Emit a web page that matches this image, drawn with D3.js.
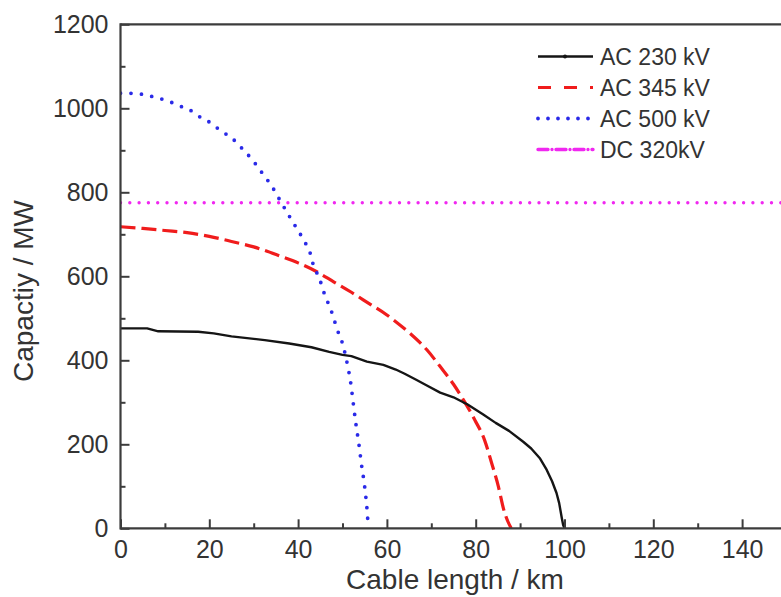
<!DOCTYPE html>
<html>
<head>
<meta charset="utf-8">
<script src="https://cdn.jsdelivr.net/npm/d3@7"></script>
<style>
  html, body { margin: 0; padding: 0; background: #fff; }
  svg { display: block; }
  text { font-family: "Liberation Sans", Arial, Helvetica, sans-serif; }
</style>
</head>
<body>
<svg id="chart" width="781" height="597"></svg>
<script>
// ---- data ----
const seriesNames = ["AC 230 kV", "AC 345 kV", "AC 500 kV", "DC 320kV"];

const ac230Length = [0, 6, 8.5, 17.5, 21, 25, 32.5, 38, 43, 47, 50, 52, 55.5, 59.2, 62, 64, 66.7, 69, 72, 75, 77.2, 78, 81.7, 84.5, 87.5, 90.7, 92.5, 94.5, 96, 97.2, 98.2, 98.8, 99.4, 99.7, 100];
const ac230Value  = [476, 476, 469, 468, 464, 457, 448, 440, 431, 420, 413, 410, 397, 389, 378, 368, 353, 340, 323, 312, 300, 296, 271, 251, 232, 206, 190, 166, 139, 112, 84, 60, 24, 8, 0];

const ac345Length = [0, 5, 10, 15, 20, 25, 30, 36, 40, 44, 48, 52, 56, 60, 62, 65, 69, 72, 75, 77.5, 79.8, 82, 83.6, 85.1, 86.3, 87.3, 88];
const ac345Value  = [718, 714, 709, 704, 695, 683, 670, 648, 632, 612, 587, 562, 535, 508, 492, 466, 425, 385, 343, 301, 258, 210, 155, 100, 45, 15, 0];

const ac500Length = [0, 3.7, 6.3, 8.2, 10.8, 13, 16.4, 17.5, 20.2, 22.4, 25.3, 27.5, 29.8, 31.9, 34.1, 36.3, 38.2, 39.7, 41.5, 42.7, 43.4, 44.8, 45.8, 47, 47.9, 48.7, 49.8, 50.6, 51.2, 51.8, 52.4, 53, 53.7, 54.3, 54.9, 55.3, 55.6, 55.8];
const ac500Value  = [1036, 1035, 1030, 1025, 1017, 1007, 991, 982, 966, 948, 927, 903, 876, 846, 814, 774, 740, 714, 682, 656, 628, 595, 562, 530, 505, 476, 447, 415, 385, 350, 300, 250, 200, 150, 107, 70, 35, 0];

const dc320Length = [0, 150];
const dc320Value  = [775, 775];

const xTickValues = [0, 20, 40, 60, 80, 100, 120, 140];
const xMinorTicks = [10, 30, 50, 70, 90, 110, 130, 150];
const yTickValues = [0, 200, 400, 600, 800, 1000, 1200];
const yMinorTicks = [100, 300, 500, 700, 900, 1100];

const xTitle = "Cable length / km";
const yTitle = "Capactiy / MW";

// ---- layout ----
const svg = d3.select("#chart");
const plotLeft = 120.5, plotBottom = 528.3, plotTop = 24.3;
const x = d3.scaleLinear().domain([0, 150]).range([plotLeft, plotLeft + 150 * 4.44]);
const y = d3.scaleLinear().domain([0, 1200]).range([plotBottom, plotTop]);

const axisColor = "#3c3c3c";
const textColor = "#333";

svg.append("defs").append("clipPath").attr("id", "plotclip")
  .append("rect").attr("x", plotLeft).attr("y", plotTop - 4).attr("width", 781 - plotLeft).attr("height", plotBottom - plotTop + 4);

// series
const series = [
  { name: seriesNames[0], xs: ac230Length, ys: ac230Value, color: "#151515", width: 2.4, dash: null, cap: "butt", curve: d3.curveLinear },
  { name: seriesNames[1], xs: ac345Length, ys: ac345Value, color: "#f01c1c", width: 3.2, dash: "15 6", cap: "butt", curve: d3.curveMonotoneX },
  { name: seriesNames[2], xs: ac500Length, ys: ac500Value, color: "#2a2ae8", width: 3.8, dash: "0 10.5", cap: "round", curve: d3.curveMonotoneX },
  { name: seriesNames[3], xs: dc320Length, ys: dc320Value, color: "#f028f0", width: 3.4, dash: "0 9.3", cap: "round", curve: d3.curveLinear }
];

const plot = svg.append("g").attr("clip-path", "url(#plotclip)");

[3, 1, 2, 0].forEach(i => {
  const s = series[i];
  const pts = s.xs.map((v, k) => [v, s.ys[k]]);
  const line = d3.line().x(d => x(d[0])).y(d => y(d[1])).curve(s.curve);
  plot.append("path")
    .attr("d", line(pts))
    .attr("fill", "none")
    .attr("stroke", s.color)
    .attr("stroke-width", s.width)
    .attr("stroke-linecap", s.cap)
    .attr("stroke-linejoin", "round")
    .attr("stroke-dasharray", s.dash);
});

// ---- axes ----
const fontSize = 25;
const xAxis = svg.append("g").attr("transform", `translate(0,${plotBottom})`)
  .call(d3.axisBottom(x).tickValues(xTickValues).tickSize(-9).tickPadding(12).tickFormat(d3.format("d")));
const xMinor = svg.append("g").attr("transform", `translate(0,${plotBottom})`)
  .call(d3.axisBottom(x).tickValues(xMinorTicks).tickSize(-5).tickFormat(""));
const yAxis = svg.append("g").attr("transform", `translate(${plotLeft},0)`)
  .call(d3.axisLeft(y).tickValues(yTickValues).tickSize(-9).tickPadding(12).tickFormat(d3.format("d")));
const yMinor = svg.append("g").attr("transform", `translate(${plotLeft},0)`)
  .call(d3.axisLeft(y).tickValues(yMinorTicks).tickSize(-5).tickFormat(""));

[xAxis, xMinor, yAxis, yMinor].forEach(g => {
  g.select(".domain").remove();
  g.selectAll(".tick line").attr("stroke", axisColor).attr("stroke-width", 2);
  g.selectAll(".tick text").attr("fill", textColor).style("font-size", fontSize + "px")
    .style("font-family", '"Liberation Sans", Arial, sans-serif');
});

// frame lines (left, bottom, top; right side lies outside the picture)
svg.append("line").attr("x1", plotLeft).attr("x2", 790).attr("y1", plotBottom).attr("y2", plotBottom)
  .attr("stroke", axisColor).attr("stroke-width", 2.2);
svg.append("line").attr("x1", plotLeft).attr("x2", 790).attr("y1", plotTop).attr("y2", plotTop)
  .attr("stroke", axisColor).attr("stroke-width", 2.2);
svg.append("line").attr("x1", plotLeft).attr("x2", plotLeft).attr("y1", plotTop - 1.1).attr("y2", plotBottom + 1.1)
  .attr("stroke", axisColor).attr("stroke-width", 2.2);

// axis titles
svg.append("text").attr("x", 455).attr("y", 589).attr("text-anchor", "middle")
  .attr("fill", textColor).style("font-size", "28px").text(xTitle);
svg.append("text").attr("transform", "translate(33,291) rotate(-90)").attr("text-anchor", "middle")
  .attr("fill", textColor).style("font-size", "28px").text(yTitle);

// ---- legend ----
const legendDash = ["", "13 13", "0 10", "10 4 0 4"];
const legendRowY = [56.5, 87.5, 118.5, 149.5];
const lg = svg.append("g");
series.forEach((s, i) => {
  const yy = legendRowY[i];
  lg.append("line").attr("x1", 538).attr("x2", 593).attr("y1", yy).attr("y2", yy)
    .attr("stroke", s.color).attr("stroke-width", s.width)
    .attr("stroke-linecap", i === 2 || i === 3 ? "round" : "butt")
    .attr("stroke-dasharray", legendDash[i] || null);
  if (i === 0) {
    lg.append("circle").attr("cx", 565).attr("cy", yy).attr("r", 2).attr("fill", s.color);
  }
  lg.append("text").attr("x", 600).attr("y", yy).attr("dy", "0.36em")
    .attr("fill", textColor).style("font-size", "23px").text(s.name);
});
</script>
</body>
</html>
